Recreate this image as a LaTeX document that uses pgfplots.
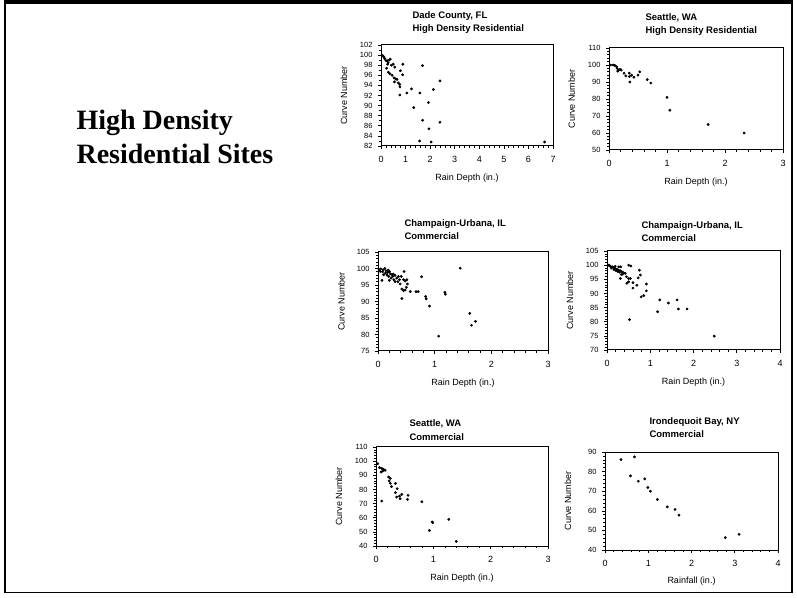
\documentclass[border=0pt]{standalone}
\usepackage{fontspec}
\setmainfont{Liberation Sans}
\newfontfamily\slidefont{Liberation Serif}
\usepackage{pgfplots}
\pgfplotsset{compat=1.18}

\pgfplotsset{
  panel/.style={
    scale only axis,
    xtick pos=bottom, ytick pos=left,
    axis line style={black, line width=1pt},
    tick align=outside,
    major tick length=3pt, minor tick length=1.8pt,
    tick style={black, line width=0.6pt},
    /pgf/number format/assume math mode=true,
    xticklabel style={font=\fontsize{9}{10}\selectfont, yshift=-4pt},
    yticklabel style={font=\fontsize{7.5}{8}\selectfont, xshift=-2pt},
    xlabel={Rain Depth (in.)}, ylabel={Curve Number},
    label style={font=\fontsize{9}{10}\selectfont},
    xlabel style={at={(axis description cs:0.5,-0.32)}, anchor=center},
    ylabel style={at={(axis description cs:-0.215,0.5)}, anchor=center},
    clip=false,
  },
  dots/.style={only marks, mark=*, mark size=1.2pt, black},
}
\newcommand{\ptitle}[4]{%
  \node[anchor=base west, font=\bfseries\fontsize{9.5}{10}\selectfont] at (#1,#2) {#3};
  \node[anchor=base west, font=\bfseries\fontsize{9.5}{10}\selectfont] at (#1,#2-13pt) {#4};}

\begin{document}
\begin{tikzpicture}
\path (0pt,0pt) rectangle (797pt,597pt);
% slide frame
\draw[line width=1.8pt] (5pt,4.5pt) rectangle (792pt,595pt);
\fill (4pt,593pt) rectangle (793pt,597pt);

\node[anchor=base west, font=\slidefont\bfseries\fontsize{28}{34}\selectfont] at (73pt,467pt) {High Density};
\node[anchor=base west, font=\slidefont\bfseries\fontsize{28}{34}\selectfont] at (73pt,433pt) {Residential Sites};

% Dade County, FL
\ptitle{409pt}{578pt}{Dade County, FL}{High Density Residential}
\begin{axis}[panel, at={(381pt,451pt)}, anchor=south west, width=172pt, height=101pt,
  xmin=0, xmax=7, ymin=82, ymax=102, xtick={0,...,7}, ytick={82,84,...,102},
  minor x tick num=4, minor y tick num=1]
\addplot[dots] table {
x y
0.07 99.9
0.12 99.6
0.15 99.3
0.20 98.9
0.25 98.9
0.29 98.5
0.33 99.0
0.38 99.2
0.42 98.0
0.27 98.2
0.23 97.4
0.50 98.2
0.56 97.6
0.30 96.6
0.36 96.3
0.45 96.0
0.53 95.5
0.60 95.3
0.65 95.2
0.55 94.7
0.70 94.5
0.76 94.2
0.77 93.7
0.77 92.1
0.79 96.9
0.89 98.2
0.88 96.1
1.05 92.5
1.24 93.3
1.33 89.6
1.58 92.5
1.69 97.9
1.69 87.1
1.57 83.0
1.93 90.6
1.95 85.4
2.04 82.8
2.13 93.2
2.40 94.9
2.40 86.7
6.66 82.8
};
\end{axis}

% Seattle, WA High Density Residential
\ptitle{642pt}{576pt}{Seattle, WA}{High Density Residential}
\begin{axis}[panel, at={(609pt,447pt)}, anchor=south west, width=174pt, height=102pt,
  xmin=0, xmax=3, ymin=50, ymax=110, xtick={0,...,3}, ytick={50,60,...,110},
  minor x tick num=4, minor y tick num=4]
\addplot[dots] table {
x y
0.03 100.0
0.07 100.0
0.10 99.8
0.13 99.0
0.14 98.0
0.16 97.0
0.19 97.4
0.21 97.0
0.15 96.4
0.26 95.2
0.29 93.6
0.35 93.2
0.35 95.2
0.36 90.0
0.39 94.0
0.43 92.8
0.50 94.0
0.53 96.0
0.66 91.4
0.72 89.4
1.00 81.0
1.05 73.4
1.71 65.0
2.33 60.0
};
\end{axis}

% Champaign-Urbana, IL Commercial (left)
\ptitle{401pt}{370.5pt}{Champaign-Urbana, IL}{Commercial}
\begin{axis}[panel, at={(378pt,246pt)}, anchor=south west, width=170pt, height=99pt,
  xmin=0, xmax=3, ymin=75, ymax=105, xtick={0,...,3}, ytick={75,80,...,105},
  minor x tick num=4, minor y tick num=4]
\addplot[dots] table {
x y
0.02 99.6
0.05 99.9
0.09 99.6
0.12 100.0
0.04 99.1
0.07 96.4
0.14 99.3
0.17 98.8
0.13 98.6
0.20 99.1
0.22 98.4
0.25 98.1
0.19 97.6
0.20 96.4
0.28 96.6
0.26 97.6
0.30 97.9
0.33 97.1
0.36 97.6
0.38 96.6
0.39 95.3
0.41 97.6
0.45 96.6
0.46 99.1
0.48 96.2
0.51 96.6
0.52 95.3
0.50 94.3
0.48 93.5
0.42 93.8
0.45 93.3
0.42 90.9
0.57 93.0
0.67 93.0
0.71 93.0
0.77 97.5
0.84 91.5
0.85 90.8
0.91 88.6
1.07 79.5
1.18 92.8
1.19 92.2
1.45 100.1
1.62 86.4
1.65 82.8
1.72 84.0
0.10 98.1
0.16 98.0
0.23 97.1
0.30 96.0
0.35 96.0
0.08 99.0
0.18 99.5
0.27 98.3
};
\end{axis}

% Champaign-Urbana, IL Commercial (right)
\ptitle{638pt}{368pt}{Champaign-Urbana, IL}{Commercial}
\begin{axis}[panel, at={(607pt,247pt)}, anchor=south west, width=173pt, height=99pt,
  xmin=0, xmax=4, ymin=70, ymax=105, xtick={0,...,4}, ytick={70,75,...,105},
  minor x tick num=4, minor y tick num=4]
\addplot[dots] table {
x y
0.04 100.0
0.08 99.6
0.12 99.4
0.15 99.2
0.19 98.8
0.23 98.5
0.27 98.2
0.31 98.0
0.35 97.6
0.38 97.3
0.42 97.1
0.27 99.4
0.19 99.6
0.32 99.4
0.33 96.7
0.31 95.3
0.45 95.9
0.46 93.6
0.50 94.1
0.50 100.0
0.55 99.7
0.50 95.3
0.54 95.3
0.52 80.7
0.60 93.8
0.60 91.9
0.69 92.9
0.72 95.5
0.75 98.2
0.77 96.5
0.79 88.8
0.85 89.2
0.91 93.3
0.91 90.9
1.17 83.5
1.22 87.7
1.42 86.6
1.62 87.7
1.65 84.5
1.85 84.5
2.48 74.9
0.10 99.0
0.16 98.4
0.21 98.0
0.25 97.8
0.29 97.5
0.36 96.8
0.06 99.8
};
\end{axis}

% Seattle, WA Commercial
\ptitle{406pt}{170pt}{Seattle, WA}{Commercial}
\begin{axis}[panel, at={(376pt,51pt)}, anchor=south west, width=172pt, height=99pt,
  xmin=0, xmax=3, ymin=40, ymax=110, xtick={0,...,3}, ytick={40,50,...,110},
  minor x tick num=4, minor y tick num=4]
\addplot[dots] table {
x y
0.03 98.2
0.06 95.4
0.10 94.9
0.13 94.2
0.09 92.3
0.12 93.0
0.16 93.5
0.10 71.8
0.22 88.8
0.25 87.8
0.23 86.0
0.25 84.3
0.27 82.0
0.34 84.3
0.37 80.5
0.34 77.7
0.36 74.6
0.41 75.3
0.42 73.4
0.45 76.5
0.55 73.0
0.56 75.8
0.80 71.3
0.93 51.0
0.98 57.0
0.99 56.5
1.27 58.8
1.40 43.3
};
\end{axis}

% Irondequoit Bay, NY Commercial
\ptitle{646pt}{172pt}{Irondequoit Bay, NY}{Commercial}
\begin{axis}[panel, at={(605pt,47pt)}, anchor=south west, width=173pt, height=98pt,
  xmin=0, xmax=4, ymin=40, ymax=90, xtick={0,...,4}, ytick={40,50,...,90},
  minor x tick num=4, minor y tick num=4, xlabel={Rainfall (in.)}]
\addplot[dots] table {
x y
0.37 86.1
0.68 87.5
0.59 77.8
0.77 75.1
0.92 76.3
0.99 71.9
1.05 70.0
1.21 65.8
1.44 62.0
1.62 60.7
1.71 57.8
2.78 46.3
3.10 48.0
};
\end{axis}
\end{tikzpicture}
\end{document}
